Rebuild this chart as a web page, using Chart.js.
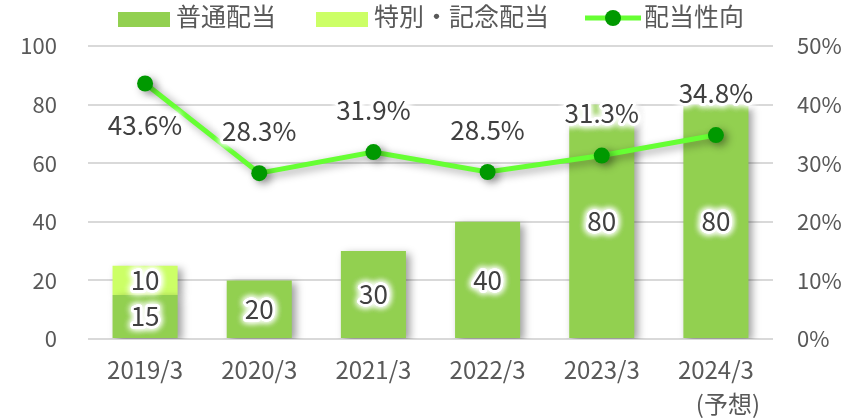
<!DOCTYPE html>
<html lang="ja">
<head>
<meta charset="utf-8">
<script src="https://cdn.jsdelivr.net/npm/chart.js@4/dist/chart.umd.min.js"></script>
<style>
  html, body { margin: 0; padding: 0; background: #fff; }
  #wrap { width: 860px; height: 420px; }
</style>
</head>
<body>
<div id="wrap"><canvas id="chart" width="860" height="420"></canvas></div>
<script>
"use strict";

// categories (last one is the forecast year)
const categories = ["2019/3", "2020/3", "2021/3", "2022/3", "2023/3", ["2024/3", "　(予想)"]];
const regularDividend = [15, 20, 30, 40, 80, 80];      // 普通配当
const specialDividend = [10, null, null, null, null, null]; // 特別・記念配当
const payoutRatio = [43.6, 28.3, 31.9, 28.5, 31.3, 34.8];  // 配当性向 (%)
const leftTicks = [0, 20, 40, 60, 80, 100];
const rightTicks = [0, 10, 20, 30, 40, 50];

const FONT = '"Noto Sans CJK JP", "Noto Sans", sans-serif';
const GREY = "#595959";
const LABEL = "#404040";

Chart.defaults.font.family = FONT;
Chart.defaults.color = GREY;

//* soft drop shadow under bars and the line, like the office chart
const shadowPlugin = {
  id: "shadow",
  beforeDatasetDraw(chart) {
    const ctx = chart.ctx;
    ctx.save();
    ctx.shadowColor = "rgba(0,0,0,0.38)";
    ctx.shadowBlur = 8;
    ctx.shadowOffsetX = 4;
    ctx.shadowOffsetY = 3;
  },
  afterDatasetDraw(chart) {
    chart.ctx.restore();
  },
};

function glowText(ctx, text, x, y) {
  ctx.save();
  ctx.strokeStyle = "#fff";
  ctx.lineWidth = 5;
  ctx.lineJoin = "round";
  ctx.shadowColor = "#fff";
  ctx.shadowBlur = 7;
  for (let i = 0; i < 3; i++) ctx.strokeText(text, x, y);
  ctx.shadowBlur = 0;
  ctx.fillStyle = LABEL;
  ctx.fillText(text, x, y);
  ctx.restore();
}

//* value labels on the bars and the ratio line
const labelPlugin = {
  id: "valueLabels",
  afterDatasetsDraw(chart) {
    const ctx = chart.ctx;
    ctx.save();
    ctx.font = "26px " + FONT;
    ctx.textAlign = "center";
    ctx.textBaseline = "middle";
    chart.data.datasets.forEach((ds, di) => {
      const meta = chart.getDatasetMeta(di);
      meta.data.forEach((el, i) => {
        const v = ds.data[i];
        if (v === null || v === undefined) return;
        if (ds.type === "line") {
          // first point gets its label underneath, the rest above
          const dy = i === 0 ? 42 : -42;
          glowText(ctx, v.toFixed(1) + "%", el.x, el.y + dy);
        } else {
          const p = el.getProps(["x", "y", "base"], true);
          glowText(ctx, String(v), p.x, (p.y + p.base) / 2);
        }
      });
    });
    ctx.restore();
  },
};

//* legend on top: bar swatches + line with marker
const legendPlugin = {
  id: "topLegend",
  afterDraw(chart) {
    const ctx = chart.ctx;
    ctx.save();
    ctx.font = "25px " + FONT;
    ctx.textBaseline = "middle";
    let x = 118;
    chart.data.datasets.forEach((ds, i) => {
      if (ds.type === "line") {
        ctx.strokeStyle = ds.borderColor;
        ctx.lineWidth = 5;
        ctx.beginPath();
        ctx.moveTo(x, 18);
        ctx.lineTo(x + 56, 18);
        ctx.stroke();
        ctx.fillStyle = ds.pointBackgroundColor;
        ctx.beginPath();
        ctx.arc(x + 28, 18, 8, 0, Math.PI * 2);
        ctx.fill();
        x += 59;
      } else {
        ctx.fillStyle = ds.backgroundColor;
        ctx.fillRect(x, 12, 52, 15);
        x += 58;
      }
      ctx.fillStyle = GREY;
      ctx.fillText(ds.label, x, 16);
      x += ctx.measureText(ds.label).width + (i === 0 ? 40 : 36);
    });
    ctx.restore();
  },
};

const config = {
  data: {
    labels: categories,
    datasets: [
      {
        type: "bar",
        label: "普通配当",
        data: regularDividend,
        backgroundColor: "#92D050",
        stack: "div",
        order: 1,
        yAxisID: "y",
        categoryPercentage: 1,
        barPercentage: 0.57,
      },
      {
        type: "bar",
        label: "特別・記念配当",
        data: specialDividend,
        backgroundColor: "#CCFF66",
        stack: "div",
        order: 2,
        yAxisID: "y",
        categoryPercentage: 1,
        barPercentage: 0.57,
      },
      {
        type: "line",
        label: "配当性向",
        data: payoutRatio,
        borderColor: "#66FF33",
        borderWidth: 5,
        pointBackgroundColor: "#009900",
        pointBorderWidth: 0,
        pointRadius: 8,
        tension: 0,
        order: 0,
        yAxisID: "y1",
      },
    ],
  },
  options: {
    responsive: false,
    animation: false,
    devicePixelRatio: 1,
    layout: { padding: { left: 19, top: 46, right: 0, bottom: 0 } },
    plugins: {
      legend: { display: false },
      tooltip: { enabled: false },
    },
    scales: {
      x: {
        stacked: true,
        grid: { display: false, drawTicks: false },
        border: { display: false },
        ticks: {
          color: GREY,
          font: { size: 24, lineHeight: 1.4 },
          padding: 14,
          maxRotation: 0,
          autoSkip: false,
        },
        afterFit(scale) {
          scale.height = 81;
        },
      },
      y: {
        stacked: true,
        position: "left",
        min: leftTicks[0],
        max: leftTicks[leftTicks.length - 1],
        ticks: {
          stepSize: leftTicks[1] - leftTicks[0],
          color: GREY,
          font: { size: 22 },
          padding: 31,
        },
        grid: { color: "#d9d9d9", lineWidth: 2, drawTicks: false },
        border: { display: false },
        afterFit(scale) {
          scale.width = 69;
        },
      },
      y1: {
        position: "right",
        min: rightTicks[0],
        max: rightTicks[rightTicks.length - 1],
        ticks: {
          stepSize: rightTicks[1] - rightTicks[0],
          color: GREY,
          font: { size: 22 },
          padding: 24,
          callback: (v) => v + "%",
        },
        grid: { display: false, drawTicks: false },
        border: { display: false },
        afterFit(scale) {
          scale.width = 87;
        },
      },
    },
  },
  plugins: [shadowPlugin, labelPlugin, legendPlugin],
};

const myChart = new Chart(document.getElementById("chart"), config);
</script>
</body>
</html>
